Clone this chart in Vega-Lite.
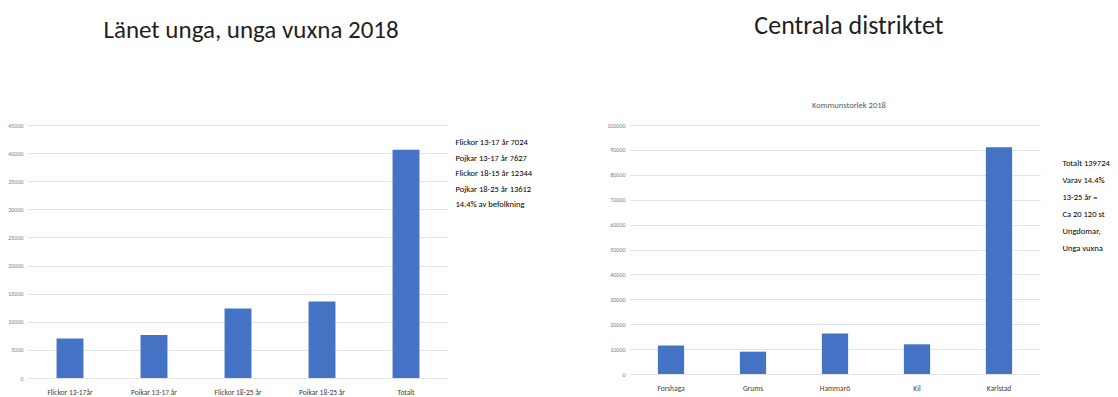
{
  "$schema": "https://vega.github.io/schema/vega-lite/v6.json",
  "padding": {"left": 0, "top": 12, "right": 0, "bottom": 0},
  "background": "white",
  "config": {"view": {"stroke": null}, "font": "Carlito, Lato"},
  "spacing": 69,
  "hconcat": [
    {
      "title": {"text": "Länet unga, unga vuxna 2018", "fontSize": 25, "fontWeight": "normal", "color": "#1f1f1f", "anchor": "middle", "offset": 79, "dx": -15},
      "spacing": 7,
      "hconcat": [
        {
          "width": 420,
          "height": 253,
          "data": {"values": [
            {"kategori": "Flickor 13-17år", "antal": 7024},
            {"kategori": "Poikar 13-17 år", "antal": 7627},
            {"kategori": "Flickor 18-25 år", "antal": 12344},
            {"kategori": "Poikar 18-25 år", "antal": 13612},
            {"kategori": "Totalt", "antal": 40607}
          ]},
          "mark": {"type": "bar", "color": "#4472C4", "width": {"band": 0.32}},
          "encoding": {
            "x": {"field": "kategori", "type": "nominal", "sort": null, "scale": {"paddingInner": 0, "paddingOuter": 0},
                  "axis": {"title": null, "labelAngle": 0, "domain": false, "ticks": false, "grid": false, "labelFontSize": 7.5, "labelColor": "#404040", "labelPadding": 10}},
            "y": {"field": "antal", "type": "quantitative", "scale": {"domain": [0, 45000]},
                  "axis": {"title": null, "values": [0, 5000, 10000, 15000, 20000, 25000, 30000, 35000, 40000, 45000], "format": "d", "domain": false, "ticks": false, "labelFontSize": 6, "labelColor": "#808080", "gridColor": "#e3e3e3", "minExtent": 28, "maxExtent": 28, "labelPadding": 5}}
          }
        },
        {
          "width": 1,
          "height": {"step": 15.5},
          "data": {"values": [
            {"rad": 1, "text": "Flickor 13-17 år 7024"},
            {"rad": 2, "text": "Pojkar 13-17 år 7627"},
            {"rad": 3, "text": "Flickor 18-15 år 12344"},
            {"rad": 4, "text": "Pojkar 18-25 år 13612"},
            {"rad": 5, "text": "14.4% av befolkning"}
          ]},
          "mark": {"type": "text", "align": "left", "baseline": "middle", "fontSize": 8.5, "color": "#000000", "dy": 1.5},
          "encoding": {
            "y": {"field": "rad", "type": "ordinal", "scale": {"type": "point", "padding": 1}, "axis": null},
            "text": {"field": "text"}
          }
        }
      ]
    },
    {
      "title": {"text": "Centrala distriktet", "subtitle": "Kommunstorlek 2018", "fontSize": 26, "fontWeight": "normal", "color": "#1f1f1f", "subtitleFontSize": 8.5, "subtitleColor": "#595959", "subtitlePadding": 62, "anchor": "middle", "offset": 13, "dx": -7},
      "spacing": 22,
      "hconcat": [
        {
          "width": 410,
          "height": 249,
          "data": {"values": [
            {"kommun": "Forshaga", "antal": 11439},
            {"kommun": "Grums", "antal": 8970},
            {"kommun": "Hammarö", "antal": 16291},
            {"kommun": "Kil", "antal": 11924},
            {"kommun": "Karlstad", "antal": 91100}
          ]},
          "mark": {"type": "bar", "color": "#4472C4", "width": {"band": 0.32}},
          "encoding": {
            "x": {"field": "kommun", "type": "nominal", "sort": null, "scale": {"paddingInner": 0, "paddingOuter": 0},
                  "axis": {"title": null, "labelAngle": 0, "domain": false, "ticks": false, "grid": false, "labelFontSize": 7.5, "labelColor": "#404040", "labelPadding": 10}},
            "y": {"field": "antal", "type": "quantitative", "scale": {"domain": [0, 100000]},
                  "axis": {"title": null, "values": [0, 10000, 20000, 30000, 40000, 50000, 60000, 70000, 80000, 90000, 100000], "format": "d", "domain": false, "ticks": false, "labelFontSize": 6, "labelColor": "#808080", "gridColor": "#e3e3e3", "minExtent": 28, "maxExtent": 28, "labelPadding": 5}}
          }
        },
        {
          "width": 1,
          "height": {"step": 17},
          "data": {"values": [
            {"rad": 1, "text": "Totalt 139724"},
            {"rad": 2, "text": "Varav 14.4%"},
            {"rad": 3, "text": "13-25 år ="},
            {"rad": 4, "text": "Ca 20 120 st"},
            {"rad": 5, "text": "Ungdomar,"},
            {"rad": 6, "text": "Unga vuxna"}
          ]},
          "mark": {"type": "text", "align": "left", "baseline": "middle", "fontSize": 8.5, "color": "#000000", "dy": 21},
          "encoding": {
            "y": {"field": "rad", "type": "ordinal", "scale": {"type": "point", "padding": 1}, "axis": null},
            "text": {"field": "text"}
          }
        }
      ]
    }
  ]
}
